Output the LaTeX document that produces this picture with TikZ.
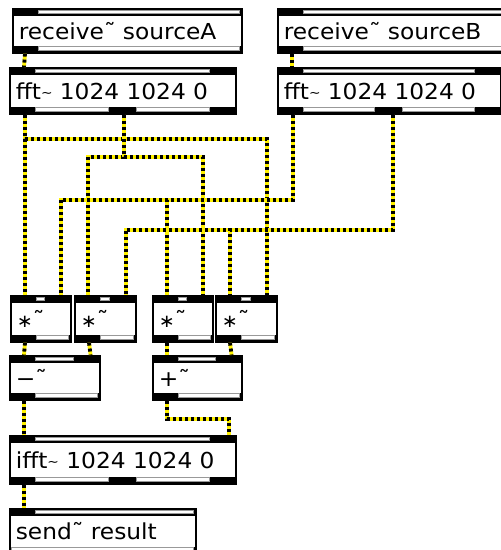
\documentclass[tikz,border=0pt]{standalone}
\usepackage{fontspec}
\newfontfamily\maxfont[FakeStretch=1.06]{DejaVu Sans}
\usetikzlibrary{calc}

\newcommand{\smtilde}{{\fontsize{13pt}{13pt}\selectfont\raisebox{2pt}{\textasciitilde}}}
\newcommand{\smstar}{{\fontsize{18pt}{18pt}\selectfont ∗}}
\newcommand{\maxobj}[6]{%
  \node[obj, text width=#4pt, minimum height=#5pt] (#1) at (#2,#3) {\hspace*{6pt}#6};
  \fill (#1.north west) rectangle ([yshift=-8pt]#1.north east);
  \fill ([yshift=8pt]#1.south west) rectangle (#1.south east);
}

\begin{document}
\begin{tikzpicture}[
    x=1pt, y=-1pt,
    obj/.style={draw=black, fill=white, line width=1.6pt, anchor=north west,
      inner xsep=0pt, inner ysep=0pt, align=left,
      font={\maxfont\fontsize{22pt}{24pt}\selectfont}},
    slot/.style={fill=white, draw=black!40, line width=0.6pt},
    cord/.style={draw=black, line width=3.8pt, dash pattern=on 3pt off 3pt,
      preaction={draw=yellow, solid, line width=3.8pt}},
]
\useasboundingbox (0,0) rectangle (501,550);
\clip (0,0) rectangle (501,550);

\maxobj{recvA}{12}{8}{229}{44}{receive˜ sourceA}
\maxobj{recvB}{277}{8}{233}{44}{receive˜ sourceB}
\maxobj{fftA}{9}{67}{226}{46}{fft\smtilde{} 1024 1024 0}
\maxobj{fftB}{277}{67}{223}{46}{fft\smtilde{} 1024 1024 0}
\maxobj{mul1}{10}{295}{60}{46}{\smstar˜}
\maxobj{mul2}{74}{295}{61}{46}{\smstar˜}
\maxobj{mul3}{152}{295}{60}{46}{\smstar˜}
\maxobj{mul4}{215}{295}{61}{46}{\smstar˜}
\maxobj{sub}{9}{355}{90}{44}{−˜}
\maxobj{add}{152}{355}{89}{44}{+˜}
\maxobj{ifft}{9}{435}{226}{48}{ifft\smtilde{} 1024 1024 0}
\maxobj{send}{9}{508}{186}{45}{send˜ result}

\foreach \a/\b/\y in {38/239/10, 38/239/46.5, 303/508/10, 303/508/46.5,
    35/209/69, 35/108/107.5, 136/209/107.5,
    303/474/69, 303/374.5/107.5, 402.5/474/107.5,
    36/44/297, 36/68/335.5, 100/109/297, 100/133/335.5,
    178/186/297, 178/210/335.5, 241/250/297, 241/274/335.5,
    35/73/357, 35/97/393.5, 178/215/357, 178/239/393.5,
    35/209/437, 35/108/477.5, 136/209/477.5,
    35/193/510, 11/193/547.5} {
  \draw[slot] (\a,\y) rectangle (\b,\y+3.5);
}

\draw[cord] ([xshift=13]recvA.south west) -- ([xshift=15]fftA.north west);
\draw[cord] ([xshift=15]recvB.south west) -- ([xshift=15]fftB.north west);
\draw[cord] ([xshift=16]fftA.south west) -- ([xshift=15]mul1.north west);
\draw[cord] ([xshift=16]fftA.south west) -- ++(0,24) -| ([xshift=-11]mul4.north east);
\draw[cord] ([xshift=1]fftA.south) -- ++(0,42) -| ([xshift=14]mul2.north west);
\draw[cord] ([xshift=1]fftA.south) -- ++(0,42) -| ([xshift=-11]mul3.north east);
\draw[cord] ([xshift=16]fftB.south west) -- ++(0,85) -| ([xshift=-11]mul1.north east);
\draw[cord] ([xshift=16]fftB.south west) -- ++(0,85) -| ([xshift=15]mul3.north west);
\draw[cord] ([xshift=3.5]fftB.south) -- ++(0,115) -| ([xshift=-11]mul2.north east);
\draw[cord] ([xshift=3.5]fftB.south) -- ++(0,115) -| ([xshift=15]mul4.north west);
\draw[cord] ([xshift=15]mul1.south west) -- ([xshift=15]sub.north west);
\draw[cord] ([xshift=15]mul2.south west) -- ([xshift=-10]sub.north east);
\draw[cord] ([xshift=15]mul3.south west) -- ([xshift=15]add.north west);
\draw[cord] ([xshift=15]mul4.south west) -- ([xshift=-11]add.north east);
\draw[cord] ([xshift=15]sub.south west) -- ([xshift=15]ifft.north west);
\draw[cord] ([xshift=15]add.south west) -- ++(0,18) -| ([xshift=-8]ifft.north east);
\draw[cord] ([xshift=15]ifft.south west) -- ([xshift=15]send.north west);
\end{tikzpicture}
\end{document}
